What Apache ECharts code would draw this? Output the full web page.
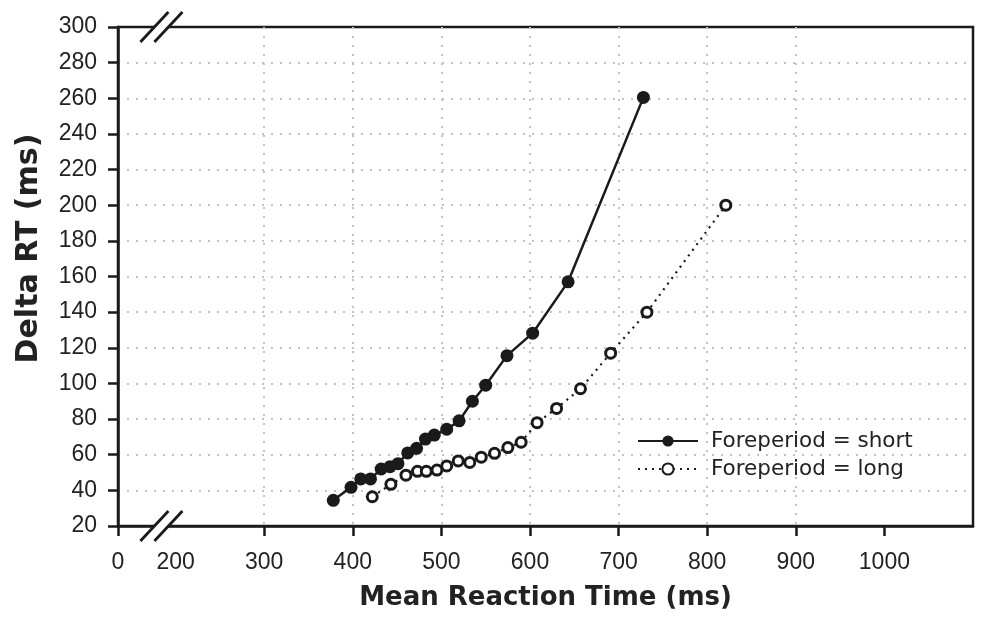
<!DOCTYPE html>
<html><head><meta charset="utf-8">
<script src="https://cdn.jsdelivr.net/npm/echarts@6/dist/echarts.min.js"></script>
<style>html,body{margin:0;padding:0;background:#fff}#c{width:981px;height:618px}</style>
</head><body><div id="c"></div>
<script>
// ---- data ----
const seriesNames = ['Foreperiod = short', 'Foreperiod = long'];
const shortX = [378, 398, 409, 420, 432, 442, 451, 462, 472, 482, 492, 506, 520, 535, 550, 574, 603, 643, 728];
const shortY = [34.4, 41.7, 46.4, 46.4, 52, 53.3, 55, 61, 63.6, 68.8, 71, 74.3, 79, 90, 99, 115.6, 128.2, 157, 260.5];
const longX = [422, 443, 460, 473, 483, 495, 506, 519, 532, 545, 560, 575, 590, 608, 630, 657, 691, 732, 821];
const longY = [36.4, 43.4, 48.5, 50.7, 50.7, 51.4, 53.7, 56.5, 55.7, 58.6, 60.8, 64, 67, 78, 86, 97, 117, 140, 200];
// broken x axis: the start of the axis is labelled "0"
const xStart = 135;
const xEnd = 1100;
const xBreakAt = 184;
const xLabelValues = [135, 200, 300, 400, 500, 600, 700, 800, 900, 1000];
const xTickValues = [135, 300, 400, 500, 600, 700, 800, 900, 1000];
const xGridValues = [200, 300, 400, 500, 600, 700, 800, 900, 1000];
const yMin = 20, yMax = 300, yStep = 20;
const xTitle = 'Mean Reaction Time (ms)';
const yTitle = 'Delta RT (ms)';

const ink = '#1a1a1a';
const font = 'DejaVu Sans';
const tickFont = 'Liberation Sans';
const gridLine = {color: '#c2c2c2', width: 2, type: [2, 7]};
const chart = echarts.init(document.getElementById('c'), null, {renderer: 'canvas'});

const pairs = (xs, ys) => xs.map((x, i) => [x, ys[i]]);

chart.setOption({
  animation: false,
  backgroundColor: '#fff',
  textStyle: {fontFamily: font},
  grid: {left: 118, right: 8, top: 27, bottom: 92, show: true, borderColor: ink, borderWidth: 2.5,
         containLabel: false, outerBoundsMode: 'none'},
  legend: {
    orient: 'vertical', left: 637, top: 429, padding: 0,
    itemWidth: 60, itemHeight: 14, itemGap: 4,
    textStyle: {fontFamily: font, fontSize: 21.5, color: '#222', lineHeight: 24, padding: [0, 0, 0, 8]},
    data: seriesNames
  },
  xAxis: [{
    type: 'value', min: xStart, max: xEnd,
    axisLine: {show: true, onZero: false, lineStyle: {color: ink, width: 2.5}},
    axisTick: {show: true, inside: false, length: 10, customValues: xTickValues, lineStyle: {color: ink, width: 2.5}},
    axisLabel: {customValues: xLabelValues, fontFamily: tickFont, fontSize: 23, color: '#222', margin: 25,
                formatter: v => (v === xStart ? '0' : String(v))},
    splitLine: {show: false},
    name: xTitle, nameLocation: 'middle', nameGap: 59,
    nameTextStyle: {fontFamily: font, fontSize: 26, fontWeight: 'bold', color: '#222'}
  }, {
    type: 'value', min: xStart, max: xEnd, position: 'bottom',
    axisLine: {show: false},
    axisTick: {show: false, customValues: xGridValues},
    axisLabel: {show: false},
    splitLine: {show: true, showMinLine: false, showMaxLine: false, lineStyle: gridLine}
  }],
  yAxis: {
    type: 'value', min: yMin, max: yMax, interval: yStep,
    axisLine: {show: true, lineStyle: {color: ink, width: 2.5}},
    axisTick: {show: true, inside: false, length: 10, lineStyle: {color: ink, width: 2.5}},
    axisLabel: {fontFamily: tickFont, fontSize: 23, color: '#222', margin: 21},
    splitLine: {show: true, showMinLine: false, showMaxLine: false, lineStyle: gridLine},
    name: yTitle, nameLocation: 'middle', nameGap: 74,
    nameTextStyle: {fontFamily: font, fontSize: 30, fontWeight: 'bold', color: '#222', padding: [0, 0, 0, 56]}
  },
  series: [{
    name: seriesNames[0], type: 'line', xAxisIndex: 0,
    data: pairs(shortX, shortY),
    symbol: 'circle', symbolSize: 13,
    itemStyle: {color: ink},
    lineStyle: {color: ink, width: 2.5},
    emphasis: {disabled: true}, z: 3
  }, {
    name: seriesNames[1], type: 'line', xAxisIndex: 0,
    data: pairs(longX, longY),
    symbol: 'circle', symbolSize: 10,
    itemStyle: {color: '#fff', borderColor: ink, borderWidth: 3},
    lineStyle: {color: ink, width: 2.2, type: [2, 5]},
    emphasis: {disabled: true}, z: 3
  }]
});

// axis-break marks on the bottom and top frame lines
const g = [];
[yMin, yMax].forEach(yv => {
  const p = chart.convertToPixel({gridIndex: 0}, [xBreakAt, yv]);
  const cx = p[0], cy = p[1], o = 7, hw = 14, hh = 15;
  g.push({type: 'polygon', z: 100, shape: {points: [[cx - o - 5, cy + 5], [cx - o + 5, cy - 5], [cx + o + 5, cy - 5], [cx + o - 5, cy + 5]]},
          style: {fill: '#fff'}});
  [-o, o].forEach(d => {
    g.push({type: 'line', z: 101, shape: {x1: cx + d - hw, y1: cy + hh, x2: cx + d + hw, y2: cy - hh},
            style: {stroke: ink, lineWidth: 2.8}});
  });
});
chart.setOption({graphic: g});
</script>
</body></html>
